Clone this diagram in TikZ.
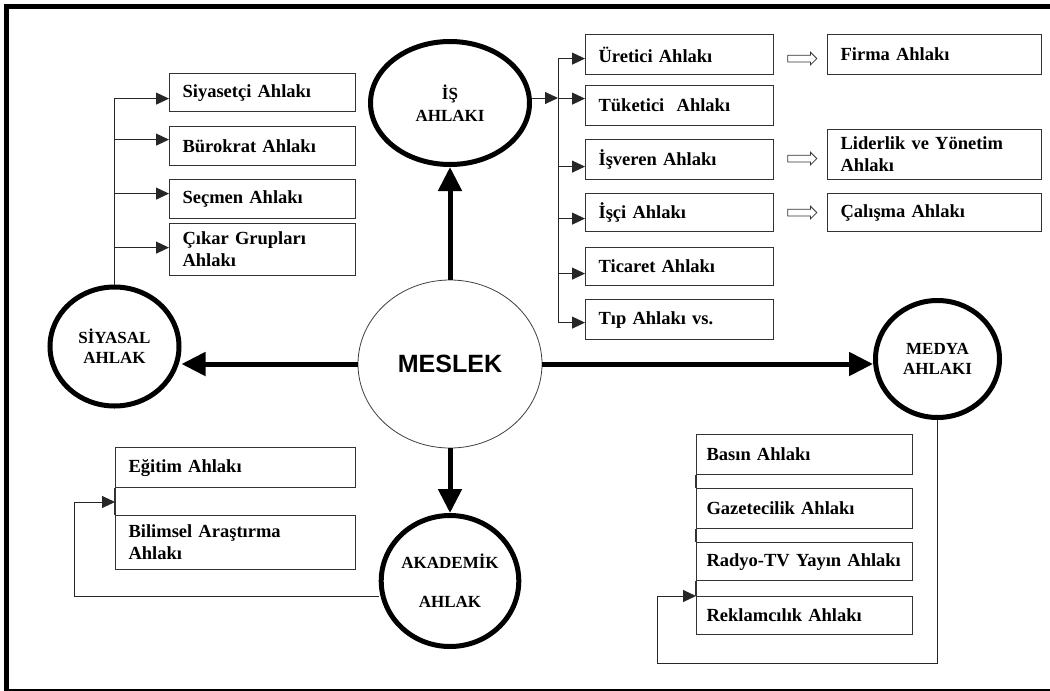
\documentclass[tikz,border=0pt]{standalone}
\usepackage{fontspec}
\setmainfont{Liberation Serif}
\newfontfamily\meslekfont{Liberation Sans}
\usetikzlibrary{arrows.meta,shapes.geometric,shapes.arrows,calc}
\begin{document}
\begin{tikzpicture}[x=1pt,y=-1pt,
  box/.style={draw=black!80, line width=1.2pt, anchor=north west, inner xsep=13pt, inner ysep=0pt,
    align=left, font=\fontsize{18.5}{22}\selectfont\bfseries},
  bxs/.style={box, minimum width=186pt, text width=160pt},
  bxu/.style={box, minimum width=188pt, text width=162pt},
  bxf/.style={box, minimum width=214pt, text width=188pt},
  bxe/.style={box, minimum width=240pt, text width=214pt},
  bxm/.style={box, inner xsep=10pt, minimum width=216pt, text width=196pt},
  circ/.style={ellipse, draw, line width=5pt, inner sep=0pt, align=center,
    font=\fontsize{17}{21}\selectfont\bfseries},
  conn/.style={line width=1pt, draw=black!85},
  arr/.style={conn, -{Triangle[length=13pt,width=12pt]}},
  bigarrow/.style={line width=5pt, -{Triangle[length=24pt,width=23pt]}},
  harrow/.style={single arrow, draw=black!80, line width=0.8pt, minimum height=29pt,
    inner xsep=0pt, inner ysep=3pt, single arrow head extend=3pt, single arrow head indent=0pt},
  sideline/.style={draw=black!80, line width=1.2pt}
]
\useasboundingbox (0,0) rectangle (1050,691);
\draw[line width=5pt] (6.5,6.5) rectangle (1052,691);

% central and category nodes
\node[ellipse, draw=black!75, line width=0.8pt, minimum width=184pt, minimum height=168pt, inner sep=0pt,
  font=\meslekfont\fontsize{25}{28}\selectfont\bfseries] (mes) at (450,364) {MESLEK};
\node[circ, minimum width=159pt, minimum height=123pt, font=\fontsize{17}{22}\selectfont\bfseries] (is) at (450,103) {İŞ\\AHLAKI};
\node[circ, minimum width=129pt, minimum height=119pt, font=\fontsize{17}{20}\selectfont\bfseries] (siy) at (114.5,346.5) {SİYASAL\\AHLAK};
\node[circ, minimum width=124pt, minimum height=117pt, font=\fontsize{17}{20}\selectfont\bfseries] (med) at (937.5,359) {MEDYA\\AHLAKI};
\node[circ, minimum width=130pt, minimum height=131pt, font=\fontsize{17}{39}\selectfont\bfseries] (aka) at (450,581) {AKADEMİK\\AHLAK};

% political boxes
\node[bxs, minimum height=38pt] (s1) at (169,73) {Siyasetçi Ahlakı};
\node[bxs, minimum height=39pt] (s2) at (169,126) {Bürokrat Ahlakı};
\node[bxs, minimum height=39pt] (s3) at (169,179) {Seçmen Ahlakı};
\node[bxs, minimum height=52pt] (s4) at (169,223) {Çıkar Grupları\\Ahlakı};

% business boxes
\node[bxu, minimum height=40pt] (u1) at (585,34) {Üretici Ahlakı};
\node[bxu, minimum height=40pt] (u2) at (585,85) {Tüketici\ \ Ahlakı};
\node[bxu, minimum height=40pt] (u3) at (585,139) {İşveren Ahlakı};
\node[bxu, minimum height=38pt] (u4) at (585,193) {İşçi Ahlakı};
\node[bxu, minimum height=38pt] (u5) at (585,247) {Ticaret Ahlakı};
\node[bxu, minimum height=40pt] (u6) at (585,299) {Tıp Ahlakı vs.};

\node[bxf, minimum height=40pt] (f1) at (827,34) {Firma Ahlakı};
\node[bxf, minimum height=50pt] (f2) at (827,129) {Liderlik ve Yönetim\\Ahlakı};
\node[bxf, minimum height=38pt] (f3) at (827,193) {Çalışma Ahlakı};

% academic boxes
\node[bxe, minimum height=40pt] (e1) at (115,447) {Eğitim Ahlakı};
\node[bxe, minimum height=54pt] (e2) at (115,515) {Bilimsel Araştırma\\Ahlakı};

% media boxes
\node[bxm, minimum height=40pt] (m1) at (696,434) {Basın Ahlakı};
\node[bxm, minimum height=40pt] (m2) at (696,488) {Gazetecilik Ahlakı};
\node[bxm, minimum height=38pt] (m3) at (696,542) {Radyo-TV Yayın Ahlakı};
\node[bxm, minimum height=38pt] (m4) at (696,596) {Reklamcılık Ahlakı};

% hollow arrows
\node[harrow] (h1) at ($(u1.east)!0.5!(f1.west)+(0,4)$) {};
\node[harrow] (h2) at ($(u3.east)!0.5!(f2.west)+(0,1.5)$) {};
\node[harrow] (h3) at ($(u4.east)!0.5!(f3.west)$) {};

% thick arrows from MESLEK
\draw[bigarrow] (mes.north) -- (is.south);
\draw[bigarrow] (mes.south) -- (aka.north);
\draw[bigarrow] (mes.west) -- (siy.east |- mes.west);
\draw[bigarrow] (mes.east) -- (med.west |- mes.east);

% political trunk
\draw[arr] (siy.north) |- ([yshift=-6pt]s1.west);
\draw[arr] (siy.north) |- ([yshift=6.5pt]s2.west);
\draw[arr] (siy.north) |- ([yshift=5.5pt]s3.west);
\draw[arr] (siy.north) |- ([yshift=2pt]s4.west);

% business trunk
\coordinate (ttop) at (558,58);
\coordinate (tbot) at (558,322);
\draw[conn] (ttop) -- (tbot);
\draw[arr] ([yshift=5pt]is.east) -- ([yshift=5pt]is.east -| ttop);
\draw[arr] ([yshift=-4pt]u1.west -| ttop) -- ([yshift=-4pt]u1.west);
\draw[arr] ([yshift=7pt]u2.west -| ttop) -- ([yshift=7pt]u2.west);
\draw[arr] ([yshift=-7pt]u3.west -| ttop) -- ([yshift=-7pt]u3.west);
\draw[arr] ([yshift=-6pt]u4.west -| ttop) -- ([yshift=-6pt]u4.west);
\draw[arr] ([yshift=-7pt]u5.west -| ttop) -- ([yshift=-7pt]u5.west);
\draw[arr] ([yshift=-3pt]u6.west -| ttop) -- ([yshift=-3pt]u6.west);

% academic connector
\draw[sideline] (e1.south west) -- (e2.north west);
\coordinate (ak) at (74,502);
\draw[arr] ([yshift=-15pt]aka.west) -| (ak) -- (ak -| e1.west);

% media connector
\draw[sideline] (m1.south west) -- (m2.north west);
\draw[sideline] (m2.south west) -- (m3.north west);
\draw[sideline] (m3.south west) -- (m4.north west);
\coordinate (mk) at (657,663);
\draw[arr] (med.south) |- (mk) |- (m4.north west);
\end{tikzpicture}
\end{document}
